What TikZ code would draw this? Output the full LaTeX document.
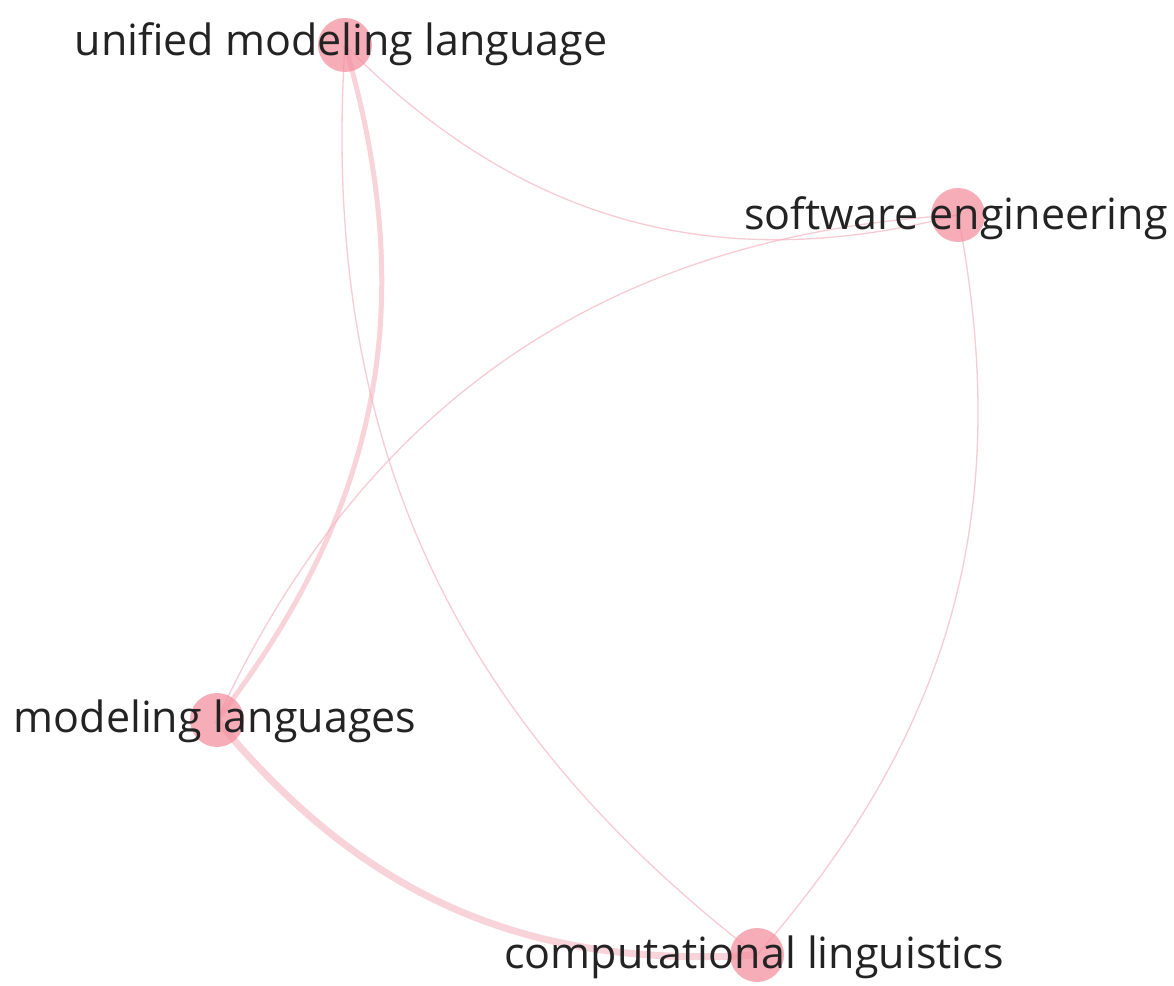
\documentclass[tikz,border=0pt]{standalone}
\usepackage{fontspec}
\setmainfont{Open Sans}
\definecolor{edgepink}{HTML}{F4B6C2}
\definecolor{nodepink}{HTML}{F58E9C}
\definecolor{labelgray}{HTML}{232323}
\begin{document}
\begin{tikzpicture}[x=1pt,y=1pt,
  vnode/.style={circle,minimum size=54pt,inner sep=0pt,fill=nodepink,fill opacity=0.72,draw=none},
  vlabel/.style={text=labelgray,font=\fontsize{43}{45}\selectfont,inner sep=0pt},
  thinedge/.style={draw=edgepink,line width=1.3pt,opacity=0.7},
  thickedge/.style={draw=edgepink,line width=5pt,opacity=0.6},
  heavyedge/.style={draw=edgepink,line width=7pt,opacity=0.6}]
\useasboundingbox (0,0) rectangle (1174,985);
\fill[white] (0,0) rectangle (1174,985);
\coordinate (uml) at (345,940);
\coordinate (se) at (958,770);
\coordinate (ml) at (217,265);
\coordinate (cl) at (757,30);
% edges
\draw[thinedge] (uml) to[bend right=30] (se);
\draw[thinedge] (se) to[bend right=31] (ml);
\draw[thinedge] (uml) to[bend right=28] (cl);
\draw[thinedge] (se) to[bend left=26] (cl);
\draw[thickedge] (uml) to[bend left=27] (ml);
\draw[heavyedge] (ml) to[bend right=27] (cl);
% nodes
\node[vnode] (umlc) at (uml) {};
\node[vnode] (sec) at (se) {};
\node[vnode] (mlc) at (ml) {};
\node[vnode] (clc) at (cl) {};
\node[vlabel] (umll) at (341,941) {unified modeling language};
\node[vlabel] (sel) at (956,767) {software engineering};
\node[vlabel] (mll) at (215,264) {modeling languages};
\node[vlabel] (cll) at (754,28) {computational linguistics};
\end{tikzpicture}
\end{document}
